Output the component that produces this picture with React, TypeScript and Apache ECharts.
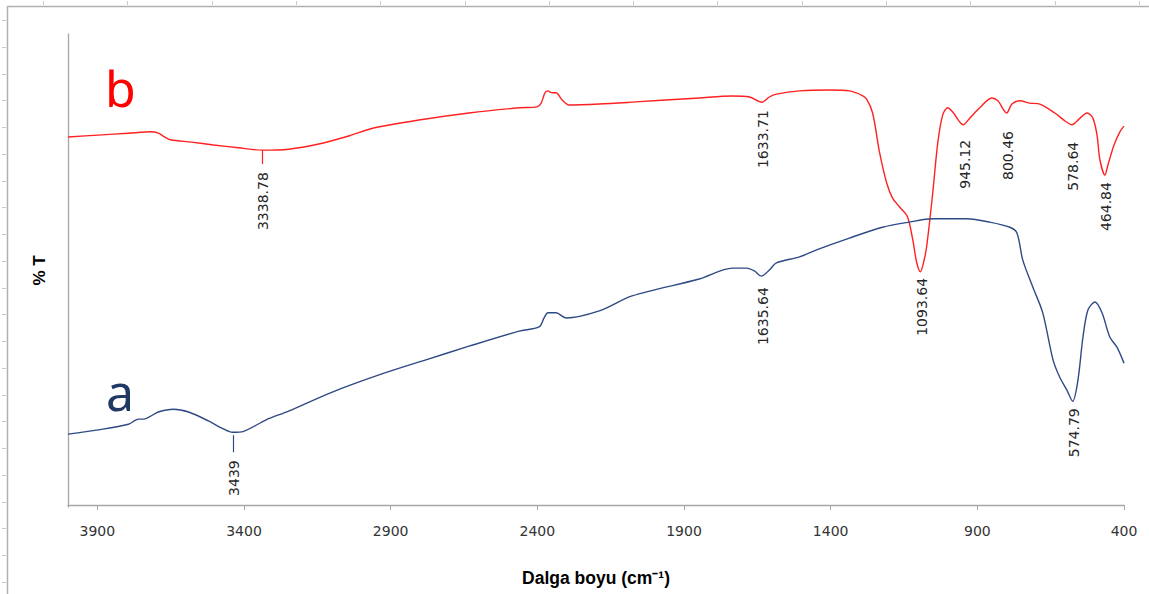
import React, { useEffect, useRef } from "react";
import * as echarts from "echarts";

// x axis ticks (wavenumber, cm-1)
const xTicks = [3900, 3400, 2900, 2400, 1900, 1400, 900, 400];

// spectrum b (red)
const redWn = [4000, 3897, 3794, 3716, 3692, 3671, 3651, 3579, 3504, 3419, 3339, 3248, 3145, 3043, 2958, 2804, 2633, 2462, 2401, 2387, 2374, 2364, 2350, 2336, 2316, 2292, 2189, 2077, 1848, 1735, 1677, 1634, 1609, 1585, 1506, 1404, 1336, 1295, 1278, 1257, 1233, 1209, 1189, 1165, 1138, 1120, 1107, 1094, 1083, 1073, 1052, 1035, 1018, 1001, 984, 948, 926, 892, 851, 830, 800, 782, 755, 721, 687, 636, 601, 578, 550, 526, 506, 492, 482, 465, 455, 434, 414, 400];
const redT = [78.3, 78.7, 79.1, 79.4, 79.1, 78.3, 77.7, 77.2, 76.6, 76.0, 75.5, 75.7, 76.8, 78.5, 80.2, 81.9, 83.4, 84.5, 84.7, 85.5, 87.7, 88.1, 87.7, 87.7, 86.2, 85.1, 85.3, 85.7, 86.6, 87.0, 86.8, 85.7, 86.8, 87.4, 88.1, 88.3, 88.1, 87.2, 86.4, 83.4, 74.9, 68.5, 65.3, 63.4, 61.3, 56.4, 51.7, 49.6, 51.7, 54.9, 66.4, 77.0, 83.0, 84.5, 83.6, 80.9, 82.3, 84.5, 86.6, 86.0, 83.4, 85.3, 86.0, 85.5, 85.3, 83.4, 81.7, 80.9, 82.3, 83.4, 82.3, 78.7, 73.4, 70.2, 72.3, 76.6, 79.4, 80.6];

// spectrum a (blue)
const blueWn = [4000, 3897, 3794, 3760, 3743, 3692, 3640, 3589, 3521, 3470, 3439, 3401, 3326, 3248, 3101, 2930, 2780, 2633, 2462, 2394, 2377, 2364, 2336, 2302, 2189, 2077, 1848, 1735, 1687, 1660, 1636, 1609, 1585, 1506, 1448, 1336, 1223, 1131, 1052, 936, 858, 789, 765, 745, 711, 677, 642, 619, 595, 575, 557, 540, 523, 499, 475, 448, 424, 400];
const blueT = [15.1, 16.0, 17.2, 18.3, 18.3, 19.8, 20.4, 19.8, 17.9, 16.2, 15.5, 15.7, 18.1, 20.0, 24.0, 27.9, 30.9, 33.8, 37.0, 37.9, 39.8, 40.9, 40.9, 39.8, 41.3, 44.5, 48.1, 50.4, 50.4, 49.8, 48.7, 50.0, 51.5, 52.8, 54.3, 56.8, 59.1, 60.2, 60.9, 60.9, 60.2, 59.1, 57.9, 52.1, 46.4, 40.9, 30.9, 27.2, 24.5, 22.1, 26.6, 35.7, 41.5, 43.2, 40.9, 35.7, 33.6, 30.2];

// peak annotations
const redPeakWn = [3338.78, 1633.71, 1093.64, 945.12, 800.46, 578.64, 464.84];
const redPeakT = [75.5, 85.7, 49.6, 80.9, 83.4, 80.9, 70.2];
const redPeakLabels = ["3338.78", "1633.71", "1093.64", "945.12", "800.46", "578.64", "464.84"];
const bluePeakWn = [3439, 1635.64, 574.79];
const bluePeakT = [15.5, 48.7, 22.1];
const bluePeakLabels = ["3439", "1635.64", "574.79"];

// styling of annotations (gap below curve, leader line)
const redPeakStyle = [
  { gap: 22, line: [0, 14] },
  { gap: 8, line: null },
  { gap: 6, line: null },
  { gap: 15, line: null },
  { gap: 18, line: null },
  { gap: 17, line: null },
  { gap: 7, line: null },
];
const bluePeakStyle = [
  { gap: 28, line: [3, 20] },
  { gap: 11, line: null },
  { gap: 7, line: null },
];

const RED = "#ff2020";
const BLUE = "#2e4a85";

export default function App() {
  const ref = useRef<HTMLDivElement>(null);

  useEffect(() => {
    document.body.style.margin = "0";
    const chart = echarts.init(ref.current!, null, { renderer: "svg" });
    const option: any = {
      animation: false,
      backgroundColor: "#ffffff",
      grid: { left: 68, right: 25, top: 34, bottom: 87 },
      xAxis: {
        type: "value",
        min: 400,
        max: 4000,
        inverse: true,
        name: "Dalga boyu (cm\u207B\u00B9)",
        nameLocation: "middle",
        nameGap: 62,
        nameTextStyle: {
          fontFamily: "Liberation Sans",
          fontWeight: "bold",
          fontSize: 17.5,
          color: "#000",
        },
        axisLine: { show: true, lineStyle: { color: "#a6a6a6", width: 1.3 } },
        axisTick: {
          show: true,
          length: 5,
          customValues: xTicks,
          lineStyle: { color: "#a6a6a6" },
        },
        axisLabel: {
          customValues: xTicks,
          margin: 17,
          fontFamily: "DejaVu Sans",
          fontSize: 14,
          color: "#333",
          formatter: (v: number) => String(v),
        },
        splitLine: { show: false },
      },
      yAxis: {
        type: "value",
        min: -0.4,
        max: 100.2,
        name: "% T",
        nameLocation: "middle",
        nameGap: 20,
        nameRotate: 90,
        nameTextStyle: {
          fontFamily: "Liberation Sans",
          fontWeight: "bold",
          fontSize: 17,
          color: "#000",
        },
        axisLine: { show: true, lineStyle: { color: "#a6a6a6", width: 1.3 } },
        axisTick: { show: false },
        axisLabel: { show: false },
        splitLine: { show: false },
      },
      series: [
        {
          name: "b",
          type: "line",
          showSymbol: false,
          smooth: 0.3,
          lineStyle: { color: RED, width: 1.4 },
          data: redWn.map((w, i) => [w, redT[i]]),
        },
        {
          name: "a",
          type: "line",
          showSymbol: false,
          smooth: 0.3,
          lineStyle: { color: BLUE, width: 1.4 },
          data: blueWn.map((w, i) => [w, blueT[i]]),
        },
      ],
    };
    chart.setOption(option);

    const graphics: any[] = [];
    // outer frame
    graphics.push({
      type: "line",
      shape: { x1: 7, y1: 6.5, x2: 1149, y2: 6.5 },
      style: { stroke: "#b0b0b0", lineWidth: 1.5 },
      silent: true,
    });
    graphics.push({
      type: "line",
      shape: { x1: 7.5, y1: 6, x2: 7.5, y2: 594 },
      style: { stroke: "#b0b0b0", lineWidth: 1.5 },
      silent: true,
    });
    for (let x = 43; x < 1149; x += 84.3) {
      graphics.push({
        type: "line",
        shape: { x1: Math.round(x) + 0.5, y1: 1, x2: Math.round(x) + 0.5, y2: 5 },
        style: { stroke: "#c8c8c8", lineWidth: 1 },
        silent: true,
      });
    }
    for (let y = 20; y < 594; y += 26.75) {
      graphics.push({
        type: "line",
        shape: { x1: 2, y1: Math.round(y) + 0.5, x2: 6, y2: Math.round(y) + 0.5 },
        style: { stroke: "#c8c8c8", lineWidth: 1 },
        silent: true,
      });
    }
    // series letters
    graphics.push({
      type: "text",
      x: 105,
      y: 88,
      style: {
        text: "b",
        fill: "#ff0000",
        fontFamily: "Noto Sans",
        fontSize: 50,
        align: "left",
        verticalAlign: "middle",
      },
    });
    graphics.push({
      type: "text",
      x: 106,
      y: 392,
      style: {
        text: "a",
        fill: "#1f3864",
        fontFamily: "Noto Sans",
        fontSize: 50,
        align: "left",
        verticalAlign: "middle",
      },
    });

    const addPeaks = (
      wns: number[],
      ts: number[],
      labels: string[],
      styles: any[],
      color: string
    ) => {
      wns.forEach((w, i) => {
        const p = chart.convertToPixel({ gridIndex: 0 }, [w, ts[i]]) as number[];
        const st = styles[i];
        if (st.line) {
          graphics.push({
            type: "line",
            shape: {
              x1: Math.round(p[0]) + 0.5,
              y1: p[1] + st.line[0],
              x2: Math.round(p[0]) + 0.5,
              y2: p[1] + st.line[1],
            },
            style: { stroke: color, lineWidth: 1.2 },
            silent: true,
          });
        }
        graphics.push({
          type: "text",
          x: p[0] + 1,
          y: p[1] + st.gap,
          rotation: Math.PI / 2,
          style: {
            text: labels[i],
            fill: "#262626",
            fontFamily: "DejaVu Sans",
            fontSize: 14,
            align: "right",
            verticalAlign: "middle",
          },
          silent: true,
        });
      });
    };
    addPeaks(redPeakWn, redPeakT, redPeakLabels, redPeakStyle, RED);
    addPeaks(bluePeakWn, bluePeakT, bluePeakLabels, bluePeakStyle, BLUE);

    chart.setOption({ graphic: graphics });

    return () => chart.dispose();
  }, []);

  return <div ref={ref} style={{ width: 1149, height: 594 }} />;
}
